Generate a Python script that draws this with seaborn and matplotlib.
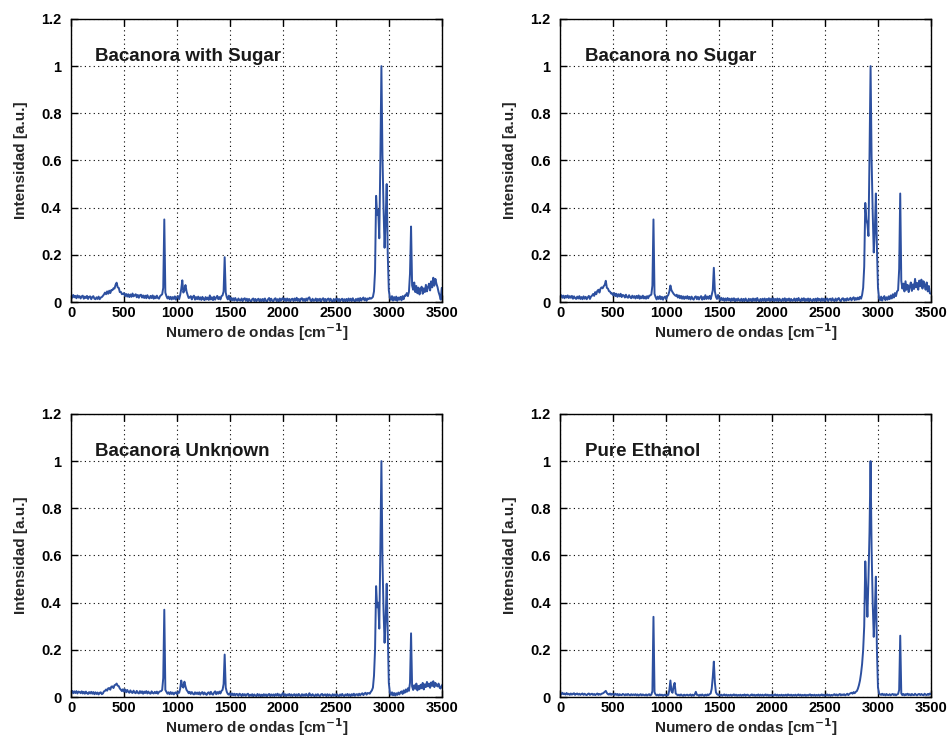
import numpy as np
import pandas as pd
import matplotlib
matplotlib.use("Agg")
import matplotlib.pyplot as plt
from matplotlib.ticker import FuncFormatter
import seaborn as sns

sns.set_theme(style="ticks")
plt.rcParams['font.family'] = ['Liberation Sans', 'DejaVu Sans']
plt.rcParams['font.weight'] = 'bold'

# -- Raman spectra, wavenumber grid every 10 cm-1 (0..3500) -- #
# intensities given in thousandths, one row = 100 cm-1
wavenumber = np.arange(0, 3501, 10)

titles = ["Bacanora with Sugar", "Bacanora no Sugar", "Bacanora Unknown", "Pure Ethanol"]

with_sugar = [
    25, 18, 30, 20, 26, 16, 28, 19, 25, 15,
    24, 27, 14, 23, 17, 26, 13, 22, 24, 12,
    21, 25, 14, 12, 20, 13, 23, 12, 19, 21,
    26, 32, 40, 33, 45, 35, 48, 38, 51, 50,
    58, 57, 73, 82, 62, 60, 42, 43, 33, 35,
    38, 25, 34, 23, 33, 21, 32, 22, 36, 24,
    28, 33, 20, 30, 18, 29, 31, 19, 28, 17,
    27, 16, 29, 19, 15, 26, 17, 28, 14, 24,
    16, 27, 17, 14, 25, 29, 33, 60, 350, 40,
    25, 15, 23, 12, 22, 11, 21, 13, 24, 10,
    20, 25, 12, 30, 55, 92, 40, 50, 72, 45,
    30, 17, 19, 25, 11, 22, 27, 10, 21, 12,
    23, 11, 20, 9, 22, 12, 8, 21, 11, 19,
    9, 28, 11, 20, 8, 23, 10, 19, 26, 12,
    21, 11, 25, 28, 45, 190, 40, 20, 11, 27,
    9, 18, 7, 16, 6, 17, 8, 5, 15, 7,
    6, 15, 4, 13, 16, 5, 14, 3, 13, 6,
    2, 12, 15, 4, 13, 3, 11, 14, 2, 12,
    4, 13, 3, 15, 5, 2, 12, 17, 4, 14,
    5, 3, 13, 16, 4, 12, 2, 15, 5, 13,
    17, 6, 14, 4, 15, 5, 13, 3, 12, 14,
    4, 15, 6, 18, 5, 13, 3, 14, 16, 5,
    13, 4, 15, 6, 17, 20, 7, 3, 14, 5,
    6, 15, 3, 13, 5, 14, 2, 12, 16, 4,
    13, 3, 12, 15, 4, 14, 5, 2, 13, 4,
    12, 15, 4, 13, 3, 11, 14, 2, 12, 4,
    13, 3, 15, 5, 14, 4, 16, 6, 3, 13,
    5, 15, 4, 17, 6, 14, 19, 7, 16, 5,
    15, 12, 18, 14, 17, 22, 45, 130, 450, 370,
    390, 270, 600, 1000, 620, 400, 230, 350, 500, 200,
    50, 18, 9, 25, 6, 21, 8, 23, 5, 19,
    10, 22, 7, 25, 12, 28, 27, 38, 25, 43,
    120, 320, 70, 52, 83, 42, 68, 37, 61, 32,
    53, 65, 35, 58, 42, 73, 45, 63, 78, 49,
    88, 62, 103, 69, 98, 77, 63, 42, 28, 10,
    60,
]

no_sugar = [
    22, 29, 18, 27, 16, 26, 19, 28, 17, 25,
    18, 26, 14, 24, 17, 13, 23, 15, 25, 13,
    21, 12, 24, 14, 22, 12, 20, 26, 13, 23,
    27, 34, 26, 42, 33, 47, 52, 40, 57, 62,
    58, 67, 73, 90, 60, 57, 46, 44, 36, 37,
    28, 38, 25, 35, 22, 33, 24, 35, 21, 30,
    28, 19, 31, 21, 18, 29, 20, 16, 27, 18,
    25, 15, 26, 17, 28, 14, 24, 16, 27, 15,
    23, 14, 25, 16, 27, 28, 32, 70, 350, 35,
    21, 11, 23, 13, 25, 12, 22, 10, 20, 23,
    12, 24, 30, 45, 70, 50, 42, 35, 30, 26,
    31, 19, 28, 16, 26, 14, 24, 13, 23, 15,
    25, 13, 22, 11, 23, 14, 10, 21, 24, 12,
    22, 11, 20, 25, 10, 21, 12, 29, 13, 23,
    14, 26, 12, 30, 50, 145, 45, 22, 13, 30,
    17, 7, 18, 8, 16, 5, 15, 6, 17, 7,
    14, 4, 15, 6, 16, 3, 13, 5, 15, 6,
    5, 14, 3, 13, 4, 15, 6, 2, 14, 5,
    13, 3, 15, 5, 14, 4, 17, 6, 3, 13,
    4, 14, 5, 15, 3, 13, 6, 16, 4, 14,
    6, 16, 4, 13, 5, 15, 3, 14, 6, 4,
    14, 5, 16, 3, 13, 6, 15, 4, 13, 5,
    6, 15, 4, 14, 5, 17, 7, 3, 15, 6,
    16, 4, 13, 5, 15, 3, 14, 6, 4, 13,
    5, 14, 3, 16, 6, 13, 4, 15, 5, 14,
    3, 13, 15, 4, 12, 14, 5, 16, 7, 4,
    15, 5, 13, 17, 6, 4, 14, 16, 5, 13,
    6, 16, 8, 11, 18, 7, 15, 20, 8, 17,
    10, 19, 11, 22, 14, 30, 60, 150, 420, 350,
    330, 280, 620, 1000, 600, 380, 210, 300, 460, 230,
    60, 15, 8, 23, 6, 18, 25, 8, 20, 10,
    24, 12, 28, 15, 33, 19, 38, 25, 45, 50,
    140, 460, 90, 57, 78, 45, 88, 52, 73, 42,
    65, 83, 47, 75, 55, 98, 62, 81, 52, 91,
    67, 95, 57, 88, 72, 52, 83, 45, 68, 37,
    35,
]

unknown = [
    20, 26, 16, 24, 17, 25, 15, 23, 21, 16,
    24, 15, 22, 14, 23, 16, 13, 21, 15, 22,
    14, 21, 12, 20, 13, 19, 11, 18, 20, 12,
    15, 24, 26, 32, 27, 37, 38, 31, 44, 45,
    38, 50, 52, 57, 48, 46, 36, 31, 25, 33,
    23, 32, 20, 30, 22, 18, 28, 20, 17, 27,
    19, 16, 26, 18, 15, 25, 17, 24, 14, 23,
    17, 25, 15, 23, 16, 14, 24, 17, 15, 22,
    16, 23, 14, 21, 24, 25, 30, 80, 370, 30,
    22, 14, 20, 12, 21, 13, 19, 11, 18, 20,
    12, 22, 18, 35, 70, 45, 40, 65, 45, 30,
    24, 16, 22, 13, 21, 14, 11, 20, 13, 19,
    12, 20, 10, 18, 21, 11, 19, 13, 9, 18,
    20, 11, 22, 13, 10, 19, 24, 12, 21, 14,
    23, 15, 26, 30, 55, 180, 40, 22, 13, 10,
    16, 8, 15, 7, 14, 6, 13, 12, 5, 14,
    11, 4, 13, 6, 12, 5, 11, 14, 4, 10,
    5, 12, 3, 11, 6, 4, 13, 5, 11, 3,
    10, 4, 12, 5, 11, 3, 10, 13, 4, 11,
    5, 11, 4, 12, 6, 14, 5, 11, 3, 10,
    17, 5, 12, 4, 11, 6, 13, 5, 11, 4,
    10, 12, 4, 11, 5, 13, 6, 4, 12, 5,
    11, 5, 13, 6, 4, 16, 7, 5, 12, 6,
    4, 11, 5, 12, 6, 4, 11, 13, 5, 10,
    11, 4, 12, 5, 11, 6, 4, 12, 5, 11,
    5, 12, 6, 4, 11, 5, 13, 6, 4, 11,
    6, 13, 5, 11, 4, 12, 6, 14, 5, 11,
    12, 6, 14, 7, 13, 16, 8, 15, 18, 10,
    17, 16, 14, 22, 28, 40, 90, 200, 470, 380,
    400, 290, 620, 1000, 580, 370, 230, 330, 480, 260,
    60, 18, 9, 20, 7, 17, 6, 16, 9, 19,
    11, 20, 24, 13, 28, 18, 32, 22, 37, 26,
    60, 270, 45, 30, 50, 35, 57, 28, 47, 33,
    52, 37, 60, 32, 54, 42, 64, 45, 57, 39,
    62, 47, 67, 42, 60, 49, 45, 57, 39, 36,
    50,
]

ethanol = [
    16, 11, 18, 12, 15, 10, 17, 11, 14, 9,
    15, 10, 14, 16, 9, 13, 15, 10, 14, 9,
    13, 15, 9, 14, 10, 8, 13, 15, 9, 12,
    14, 9, 13, 8, 12, 15, 9, 13, 10, 14,
    15, 18, 22, 26, 17, 12, 10, 15, 9, 13,
    12, 8, 14, 9, 13, 7, 12, 9, 8, 13,
    11, 7, 12, 8, 13, 9, 7, 12, 8, 11,
    8, 12, 7, 11, 6, 10, 12, 7, 11, 8,
    7, 11, 6, 10, 12, 7, 10, 25, 340, 20,
    11, 7, 10, 6, 11, 7, 10, 5, 9, 10,
    6, 10, 9, 30, 70, 25, 18, 45, 60, 15,
    11, 7, 10, 6, 11, 7, 5, 10, 6, 9,
    10, 6, 9, 11, 5, 10, 6, 11, 22, 9,
    9, 5, 10, 6, 11, 7, 5, 10, 6, 11,
    8, 12, 15, 35, 85, 150, 60, 20, 12, 9,
    11, 6, 10, 5, 9, 11, 6, 10, 5, 9,
    6, 10, 5, 9, 11, 6, 10, 5, 9, 6,
    10, 5, 9, 6, 11, 5, 9, 10, 6, 5,
    9, 11, 6, 10, 5, 9, 6, 11, 5, 10,
    6, 10, 5, 9, 11, 6, 10, 5, 9, 6,
    10, 5, 9, 11, 6, 10, 5, 9, 6, 10,
    5, 9, 6, 10, 5, 11, 9, 6, 10, 5,
    9, 6, 10, 5, 9, 11, 6, 10, 5, 9,
    6, 10, 5, 9, 6, 10, 11, 5, 9, 6,
    10, 5, 9, 6, 10, 5, 9, 11, 6, 10,
    5, 9, 11, 6, 10, 5, 9, 6, 10, 12,
    7, 11, 6, 10, 13, 7, 11, 8, 12, 7,
    10, 14, 8, 13, 16, 18, 14, 21, 16, 22,
    25, 35, 50, 70, 100, 140, 200, 300, 575, 450,
    340, 500, 700, 1000, 620, 400, 255, 360, 510, 200,
    40, 15, 11, 9, 14, 8, 12, 7, 13, 9,
    8, 12, 7, 11, 13, 8, 12, 7, 11, 13,
    30, 260, 15, 8, 13, 7, 12, 9, 14, 8,
    12, 7, 13, 9, 8, 14, 9, 7, 12, 13,
    8, 13, 9, 7, 14, 10, 8, 13, 9, 15,
    12,
]

spectra = [with_sugar, no_sugar, unknown, ethanol]
line_color = "#2d50a0"

fig = plt.figure(figsize=(9.48, 7.45), dpi=100)
rects = [
    [0.075, 0.5946, 0.391, 0.380],
    [0.591, 0.5946, 0.391, 0.380],
    [0.075, 0.0644, 0.391, 0.380],
    [0.591, 0.0644, 0.391, 0.380],
]

for rect, title, vals in zip(rects, titles, spectra):
    ax = fig.add_axes(rect)
    df = pd.DataFrame({"wn": wavenumber, "I": np.array(vals) / 1000.0})
    sns.lineplot(data=df, x="wn", y="I", ax=ax, color=line_color, linewidth=1.4)

    ax.set_xlim(0, 3500)
    ax.set_ylim(0, 1.2)
    ax.set_xticks(np.arange(0, 3501, 500))
    ax.set_yticks(np.arange(0, 1.21, 0.2))
    ax.yaxis.set_major_formatter(FuncFormatter(lambda v, p: f"{v:g}"))
    ax.grid(True, linestyle=(0, (1, 3)), color="black", linewidth=0.8)
    ax.tick_params(direction="in", top=True, right=True, length=5, width=1,
                   labelsize=10.5, colors="black")
    ax.tick_params(axis="x", pad=3)
    ax.tick_params(axis="y", pad=7)
    for lab in ax.get_xticklabels() + ax.get_yticklabels():
        lab.set_fontweight("bold")
    for sp in ax.spines.values():
        sp.set_visible(True)
        sp.set_color("black")
        sp.set_linewidth(1)

    ax.set_xlabel(r"Numero de ondas [cm$^{\mathbf{-1}}$]", fontsize=11, fontweight="bold", labelpad=1)
    ax.set_ylabel("Intensidad [a.u.]", fontsize=11, fontweight="bold", labelpad=9)
    ax.text(230, 1.04, title, fontsize=13.5, fontweight="bold", va="center", ha="left", color="#1a1a1a")

fig.savefig("out.png", dpi=100)
plt.close()
